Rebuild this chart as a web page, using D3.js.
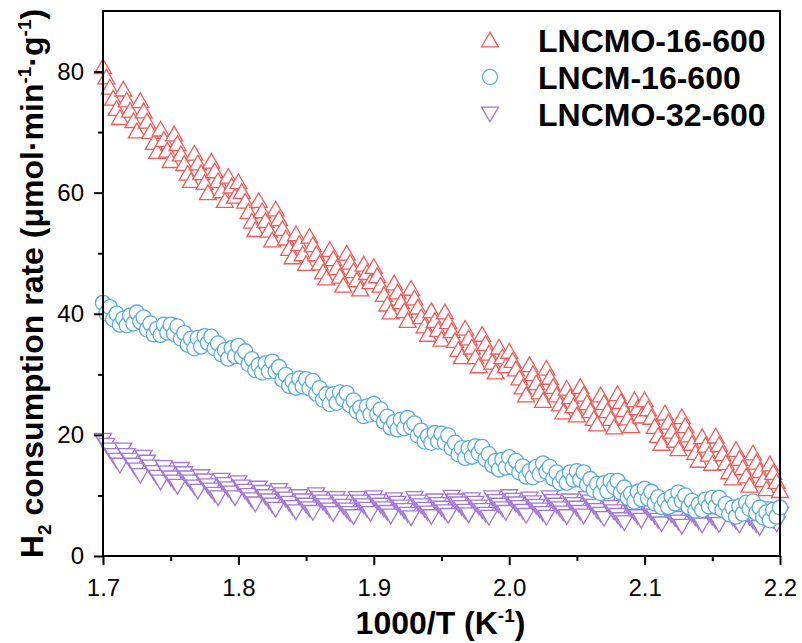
<!DOCTYPE html>
<html>
<head>
<meta charset="utf-8">
<script src="https://cdn.jsdelivr.net/npm/d3@7"></script>
<style>
    body { margin: 0; background: #fff; }
    text { font-family: "Liberation Sans", Arial, sans-serif; }
</style>
</head>
<body>
<div id="chart"></div>
<script>
// 1000/T values (K^-1)
const xValues = [
    1.7000, 1.7025, 1.7050, 1.7075, 1.7100, 1.7125, 1.7150, 1.7175, 1.7200, 1.7225, 1.7250, 1.7275, 1.7300, 1.7325, 1.7350, 1.7375, 1.7400, 1.7425, 1.7450, 1.7475,
    1.7500, 1.7525, 1.7550, 1.7575, 1.7600, 1.7625, 1.7650, 1.7675, 1.7700, 1.7725, 1.7750, 1.7775, 1.7800, 1.7825, 1.7850, 1.7875, 1.7900, 1.7925, 1.7950, 1.7975,
    1.8000, 1.8025, 1.8050, 1.8075, 1.8100, 1.8125, 1.8150, 1.8175, 1.8200, 1.8225, 1.8250, 1.8275, 1.8300, 1.8325, 1.8350, 1.8375, 1.8400, 1.8425, 1.8450, 1.8475,
    1.8500, 1.8525, 1.8550, 1.8575, 1.8600, 1.8625, 1.8650, 1.8675, 1.8700, 1.8725, 1.8750, 1.8775, 1.8800, 1.8825, 1.8850, 1.8875, 1.8900, 1.8925, 1.8950, 1.8975,
    1.9000, 1.9025, 1.9050, 1.9075, 1.9100, 1.9125, 1.9150, 1.9175, 1.9200, 1.9225, 1.9250, 1.9275, 1.9300, 1.9325, 1.9350, 1.9375, 1.9400, 1.9425, 1.9450, 1.9475,
    1.9500, 1.9525, 1.9550, 1.9575, 1.9600, 1.9625, 1.9650, 1.9675, 1.9700, 1.9725, 1.9750, 1.9775, 1.9800, 1.9825, 1.9850, 1.9875, 1.9900, 1.9925, 1.9950, 1.9975,
    2.0000, 2.0025, 2.0050, 2.0075, 2.0100, 2.0125, 2.0150, 2.0175, 2.0200, 2.0225, 2.0250, 2.0275, 2.0300, 2.0325, 2.0350, 2.0375, 2.0400, 2.0425, 2.0450, 2.0475,
    2.0500, 2.0525, 2.0550, 2.0575, 2.0600, 2.0625, 2.0650, 2.0675, 2.0700, 2.0725, 2.0750, 2.0775, 2.0800, 2.0825, 2.0850, 2.0875, 2.0900, 2.0925, 2.0950, 2.0975,
    2.1000, 2.1025, 2.1050, 2.1075, 2.1100, 2.1125, 2.1150, 2.1175, 2.1200, 2.1225, 2.1250, 2.1275, 2.1300, 2.1325, 2.1350, 2.1375, 2.1400, 2.1425, 2.1450, 2.1475,
    2.1500, 2.1525, 2.1550, 2.1575, 2.1600, 2.1625, 2.1650, 2.1675, 2.1700, 2.1725, 2.1750, 2.1775, 2.1800, 2.1825, 2.1850, 2.1875, 2.1900, 2.1925, 2.1950, 2.1975,
    2.2000
];

// H2 consumption rate (umol min-1 g-1)
const lncmo16 = [
    80.8, 79.1, 77.4, 75.6, 73.9, 72.4, 77.1, 75.3, 73.6, 71.9, 70.2, 75.2, 73.5, 71.8, 70.1, 68.3, 66.8, 70.5, 68.8, 67.0,
    65.3, 69.7, 68.1, 66.4, 64.8, 63.2, 62.0, 66.5, 64.9, 63.3, 61.7, 60.0, 65.2, 63.6, 62.0, 60.3, 58.7, 62.7, 61.1, 59.4,
    61.8, 60.2, 58.6, 56.9, 55.3, 53.9, 58.7, 57.0, 55.4, 53.8, 52.2, 57.3, 55.7, 54.1, 52.5, 50.8, 49.4, 53.2, 51.6, 49.9,
    48.3, 52.8, 51.4, 49.9, 48.4, 46.9, 45.9, 50.6, 49.1, 47.6, 46.2, 44.7, 50.0, 48.5, 47.1, 45.6, 44.1, 48.2, 46.8, 45.3,
    47.8, 46.3, 44.7, 43.2, 41.6, 40.3, 45.1, 43.6, 42.0, 40.5, 38.9, 44.2, 42.6, 41.1, 39.5, 38.0, 36.6, 40.5, 38.9, 37.4,
    35.8, 40.3, 38.7, 37.2, 35.6, 34.1, 32.9, 37.6, 36.0, 34.5, 32.9, 31.4, 36.6, 35.1, 33.5, 32.0, 30.4, 34.5, 32.9, 31.4,
    33.8, 32.3, 30.9, 29.4, 27.9, 26.6, 31.6, 30.1, 28.6, 27.1, 25.7, 31.0, 29.5, 28.0, 26.6, 25.1, 23.8, 27.7, 26.3, 24.8,
    23.3, 28.0, 26.7, 25.3, 24.0, 22.7, 21.8, 26.6, 25.3, 24.0, 22.7, 21.3, 26.8, 25.5, 24.2, 22.8, 21.5, 25.8, 24.5, 23.1,
    25.8, 24.3, 22.9, 21.4, 19.9, 18.6, 23.6, 22.1, 20.6, 19.1, 17.7, 23.0, 21.5, 20.0, 18.6, 17.1, 15.8, 19.7, 18.3, 16.8,
    15.3, 19.8, 18.4, 16.9, 15.4, 13.9, 12.9, 17.6, 16.1, 14.6, 13.2, 11.7, 17.0, 15.5, 14.1, 12.6, 11.1, 15.2, 13.8, 12.3,
    10.8
];

const lncm16 = [
    41.8, 40.1, 41.1, 39.1, 40.0, 38.2, 39.2, 38.1, 39.7, 38.4, 40.2, 38.7, 39.4, 37.4, 38.4, 36.6, 37.5, 36.5, 38.2, 36.9,
    38.2, 36.7, 37.9, 35.9, 36.8, 34.9, 35.9, 34.3, 36.0, 34.6, 36.3, 35.2, 36.2, 34.3, 35.1, 33.3, 34.0, 32.6, 34.3, 33.0,
    34.7, 32.9, 33.8, 31.7, 32.5, 30.7, 31.5, 30.3, 31.8, 30.5, 32.1, 30.5, 31.2, 29.1, 29.9, 28.1, 28.9, 27.8, 29.3, 28.0,
    29.2, 27.7, 28.9, 26.8, 27.7, 25.8, 26.7, 25.1, 26.7, 25.3, 27.0, 25.9, 26.9, 24.9, 25.7, 23.9, 24.5, 23.1, 24.7, 23.4,
    25.1, 23.4, 24.2, 22.2, 23.0, 21.2, 22.1, 20.9, 22.5, 21.1, 22.8, 21.3, 21.9, 19.9, 20.7, 18.9, 19.8, 18.7, 20.3, 18.9,
    20.2, 18.7, 19.9, 17.8, 18.7, 16.8, 17.8, 16.2, 17.8, 16.4, 18.1, 17.0, 18.0, 16.0, 16.8, 15.0, 15.7, 14.3, 15.9, 14.6,
    16.3, 14.7, 15.7, 13.8, 14.8, 13.1, 14.0, 13.0, 14.7, 13.5, 15.3, 13.9, 14.7, 12.8, 13.8, 12.1, 13.0, 12.1, 13.8, 12.6,
    14.0, 12.6, 13.8, 11.8, 12.7, 10.9, 11.9, 10.4, 12.0, 10.7, 12.4, 11.4, 12.4, 10.5, 11.3, 9.6, 10.3, 9.0, 10.6, 9.4,
    11.1, 9.5, 10.6, 8.7, 9.7, 8.1, 9.1, 8.1, 9.8, 8.7, 10.5, 9.1, 10.0, 8.1, 9.1, 7.5, 8.5, 7.6, 9.3, 8.2,
    9.6, 8.2, 9.6, 7.6, 8.6, 6.9, 8.0, 6.5, 8.2, 7.0, 8.8, 7.8, 9.0, 7.1, 8.0, 6.4, 7.2, 5.9, 7.6, 6.5,
    8.0
];

const lncmo32 = [
    19.1, 18.3, 17.5, 16.6, 15.8, 15.0, 17.5, 16.6, 15.8, 15.0, 14.2, 13.3, 16.3, 15.5, 14.7, 13.8, 13.0, 12.2, 14.6, 13.7,
    12.9, 12.2, 11.5, 14.3, 13.6, 12.9, 12.2, 11.4, 10.7, 13.1, 12.4, 11.6, 10.9, 10.2, 9.6, 12.5, 11.8, 11.1, 10.4, 9.6,
    12.1, 11.4, 10.7, 10.0, 9.3, 8.6, 11.2, 10.5, 9.8, 9.1, 8.4, 7.7, 10.8, 10.1, 9.4, 8.7, 8.0, 7.3, 9.8, 9.1,
    8.4, 7.8, 7.2, 10.1, 9.5, 8.9, 8.3, 7.6, 7.0, 9.5, 8.9, 8.2, 7.6, 7.0, 6.5, 9.5, 8.9, 8.3, 7.7, 7.0,
    9.6, 9.0, 8.4, 7.8, 7.2, 6.6, 9.3, 8.7, 8.1, 7.5, 6.9, 6.3, 9.5, 8.9, 8.3, 7.7, 7.1, 6.5, 9.1, 8.5,
    7.9, 7.3, 6.7, 9.7, 9.1, 8.6, 8.0, 7.4, 6.8, 9.3, 8.7, 8.1, 7.5, 6.9, 6.4, 9.6, 9.0, 8.4, 7.8, 7.2,
    9.8, 9.2, 8.6, 8.0, 7.4, 6.7, 9.4, 8.8, 8.2, 7.6, 7.0, 6.4, 9.6, 9.0, 8.4, 7.8, 7.1, 6.5, 9.1, 8.5,
    7.9, 7.2, 6.6, 9.5, 8.9, 8.2, 7.5, 6.9, 6.2, 8.7, 8.0, 7.3, 6.7, 6.0, 5.5, 8.5, 7.8, 7.2, 6.5, 5.9,
    8.4, 7.8, 7.2, 6.6, 5.9, 5.3, 8.0, 7.4, 6.8, 6.2, 5.6, 4.9, 8.1, 7.5, 6.9, 6.3, 5.7, 5.1, 7.6, 7.0,
    6.4, 5.8, 5.2, 8.2, 7.6, 7.0, 6.3, 5.7, 5.1, 7.6, 7.0, 6.4, 5.8, 5.2, 4.7, 7.8, 7.1, 6.5, 5.9, 5.3,
    6.9
];

const seriesNames = ['LNCMO-16-600', 'LNCM-16-600', 'LNCMO-32-600'];
const seriesColors = ['#ef5a5a', '#58abe2', '#a277d6'];

const xMajorTicks = [1.7, 1.8, 1.9, 2.0, 2.1, 2.2];
const xMinorTicks = [1.75, 1.85, 1.95, 2.05, 2.15];
const yMajorTicks = [0, 20, 40, 60, 80];
const yMinorTicks = [10, 30, 50, 70];

const width = 802;
const height = 643;

// Graph margin settings
const margin = { top: 11, right: 22, bottom: 87, left: 103 };
const drawWidth = width - margin.left - margin.right;
const drawHeight = height - margin.top - margin.bottom;

const svg = d3.select('#chart').append('svg')
    .attr('width', width)
    .attr('height', height);

const xScale = d3.scaleLinear().domain([1.7, 2.2]).range([0, drawWidth]);
const yScale = d3.scaleLinear().domain([0, 90]).range([drawHeight, 0]);

const g = svg.append('g')
    .attr('transform', `translate(${margin.left},${margin.top})`);

// markers
const triUp = d3.symbol().type(d3.symbolTriangle).size(125);
const circ = d3.symbol().type(d3.symbolCircle).size(180);

const series = [
    { name: seriesNames[0], values: lncmo16, color: seriesColors[0], shape: 'up' },
    { name: seriesNames[1], values: lncm16, color: seriesColors[1], shape: 'circle' },
    { name: seriesNames[2], values: lncmo32, color: seriesColors[2], shape: 'down' }
];

function markerPath(shape) {
    return shape === 'circle' ? circ() : triUp();
}

function markerTransform(shape, x, y) {
    if (shape === 'up') return `translate(${x},${y + 2})`;
    if (shape === 'down') return `translate(${x},${y - 2}) rotate(180)`;
    return `translate(${x},${y})`;
}

const plot = g.append('g');
// purple first, then blue, then red
[series[2], series[1], series[0]].forEach(s => {
    plot.append('g')
        .selectAll('path')
        .data(s.values)
        .enter()
        .append('path')
        .attr('d', markerPath(s.shape))
        .attr('transform', (d, i) => markerTransform(s.shape, xScale(xValues[i]), yScale(d)))
        .attr('fill', '#fff')
        .attr('stroke', s.color)
        .attr('stroke-width', 1.3);
});

// axes
g.append('g')
    .attr('transform', `translate(0,${drawHeight})`)
    .call(d3.axisBottom(xScale).tickValues(xMajorTicks).tickFormat(d3.format('.1f')).tickSize(9).tickSizeOuter(0).tickPadding(14));

g.append('g')
    .attr('transform', `translate(0,${drawHeight})`)
    .call(d3.axisBottom(xScale).tickValues(xMinorTicks).tickFormat('').tickSize(5).tickSizeOuter(0));

g.append('g')
    .call(d3.axisLeft(yScale).tickValues(yMajorTicks).tickFormat(d3.format('d')).tickSize(9).tickSizeOuter(0).tickPadding(10));

g.append('g')
    .call(d3.axisLeft(yScale).tickValues(yMinorTicks).tickFormat('').tickSize(5).tickSizeOuter(0));

g.selectAll('.domain').remove();
g.selectAll('.tick line').attr('stroke', '#000').attr('stroke-width', 2);
g.selectAll('.tick text')
    .attr('fill', '#000')
    .style('font-size', '24px')
    .style('font-family', '"Liberation Sans", Arial, sans-serif');

// frame
g.append('rect')
    .attr('x', 0)
    .attr('y', 0)
    .attr('width', drawWidth)
    .attr('height', drawHeight)
    .attr('fill', 'none')
    .attr('stroke', '#000')
    .attr('stroke-width', 2);

// axis titles
const xTitle = svg.append('text')
    .attr('x', margin.left + drawWidth / 2 - 1)
    .attr('y', 634)
    .attr('text-anchor', 'middle')
    .style('font-size', '32px')
    .style('font-weight', 'bold');
xTitle.append('tspan').text('1000/T (K');
xTitle.append('tspan').attr('dy', -12).style('font-size', '19px').text('-1');
xTitle.append('tspan').attr('dy', 12).text(')');

const yTitle = svg.append('text')
    .attr('transform', `translate(43, ${margin.top + drawHeight / 2}) rotate(-90)`)
    .attr('text-anchor', 'middle')
    .style('font-size', '32px')
    .style('font-weight', 'bold');
yTitle.append('tspan').text('H');
yTitle.append('tspan').attr('dy', 8).style('font-size', '19px').text('2');
yTitle.append('tspan').attr('dy', -8).text(' consumption rate (μmol·min');
yTitle.append('tspan').attr('dy', -12).style('font-size', '19px').text('-1');
yTitle.append('tspan').attr('dy', 12).text('·g');
yTitle.append('tspan').attr('dy', -12).style('font-size', '19px').text('-1');
yTitle.append('tspan').attr('dy', 12).text(')');

// legend
const legendRows = [52, 89, 126];
const legend = svg.append('g');
series.forEach((s, i) => {
    const cy = legendRows[i] - 12;
    legend.append('path')
        .attr('d', markerPath(s.shape))
        .attr('transform', markerTransform(s.shape, 490, cy))
        .attr('fill', '#fff')
        .attr('stroke', s.color)
        .attr('stroke-width', 1.3);
    legend.append('text')
        .attr('x', 538)
        .attr('y', legendRows[i])
        .style('font-size', '32px')
        .style('font-weight', 'bold')
        .text(s.name);
});
</script>
</body>
</html>
